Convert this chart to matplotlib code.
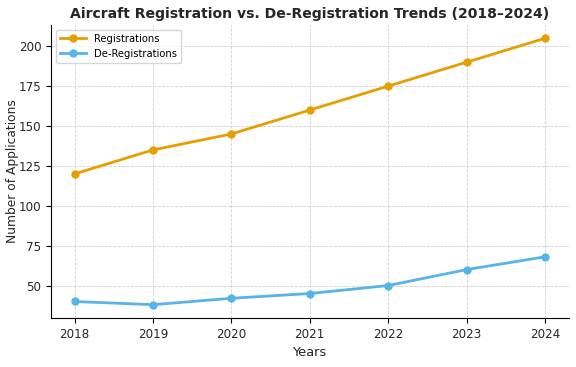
import matplotlib
matplotlib.use("Agg")
import matplotlib.pyplot as plt

years = [2018, 2019, 2020, 2021, 2022, 2023, 2024]
registrations = [120, 135, 145, 160, 175, 190, 205]
de_registrations = [40, 38, 42, 45, 50, 60, 68]

fig, ax = plt.subplots(figsize=(5.76, 3.67), dpi=100)
fig.subplots_adjust(left=0.0885, right=0.987, bottom=0.1335, top=0.932)

ax.plot(years, registrations, marker='o', color='#E69F00', linewidth=2,
        markersize=5, label='Registrations')
ax.plot(years, de_registrations, marker='o', color='#56B4E9', linewidth=2,
        markersize=5, label='De-Registrations')

ax.set_title("Aircraft Registration vs. De-Registration Trends (2018–2024)",
             fontsize=10.1, fontweight='bold', color='#262626', pad=5)
ax.set_xlabel("Years", fontsize=9.4, color='#262626')
ax.set_ylabel("Number of Applications", fontsize=8.8, color='#262626', labelpad=0)
ax.tick_params(labelsize=8.6, labelcolor='#262626')
ax.grid(True, linestyle='--', color='#d0d0d0', linewidth=0.6)
ax.spines['top'].set_visible(False)
ax.spines['right'].set_visible(False)
ax.legend(loc='upper left', fontsize=7.2, handlelength=2.6)

fig.savefig("out.png", dpi=100)
